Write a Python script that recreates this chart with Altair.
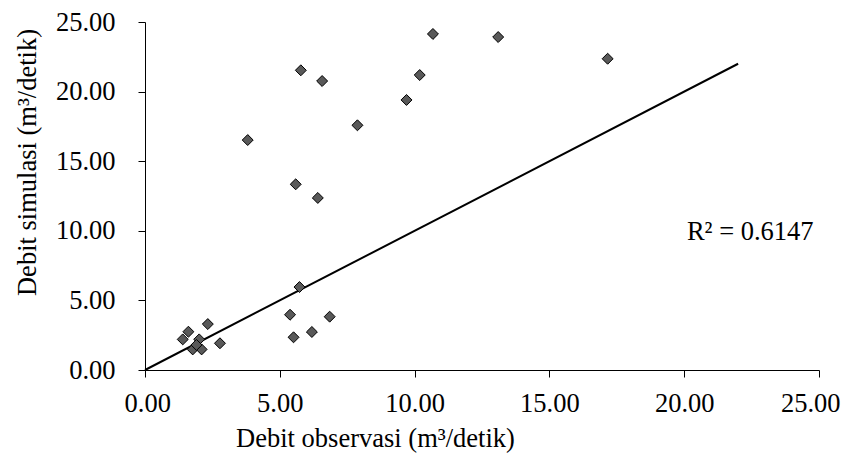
import altair as alt
import pandas as pd

obs = [3.81, 5.78, 6.57, 5.59, 6.41, 7.88, 9.70, 10.19, 10.68, 13.10, 17.16,
       5.73, 5.38, 5.51, 6.19, 6.85,
       1.40, 1.61, 2.33, 2.01, 1.77, 2.10, 2.78, 1.91]
sim = [16.52, 21.53, 20.76, 13.34, 12.36, 17.58, 19.40, 21.19, 24.14, 23.92, 22.36,
       5.96, 3.97, 2.35, 2.73, 3.83,
       2.20, 2.75, 3.30, 2.20, 1.48, 1.48, 1.92, 1.80]

line_x = [0, 22]
line_y = [0, 22]

r2_label = ["R² = 0.6147"]
r2_x = [20.1]
r2_y = [9.9]

FONT = "Liberation Serif"
FS = 26.5

pts = pd.DataFrame({"obs": obs, "sim": sim})
ln = pd.DataFrame({"obs": line_x, "sim": line_y})
txt = pd.DataFrame({"obs": r2_x, "sim": r2_y, "t": r2_label})

xscale = alt.Scale(domain=[0, 25], nice=False, zero=True)
yscale = alt.Scale(domain=[0, 25], nice=False, zero=True)

xaxis = alt.Axis(values=[0, 5, 10, 15, 20, 25], format=".2f", grid=False,
                 title="Debit observasi (m³/detik)", titleFont=FONT, titleFontSize=FS,
                 titleFontWeight="normal", titleColor="black",
                 titleX=230, titleY=76, titleAlign="center", titleBaseline="alphabetic",
                 labelFont=FONT, labelFontSize=FS, labelColor="black", labelPadding=13,
                 labelFlush=True, labelFlushOffset=21,
                 tickColor="black", tickSize=7, domainColor="black")
yaxis = alt.Axis(values=[0, 5, 10, 15, 20, 25], format=".2f", grid=False,
                 title="Debit simulasi (m³/detik)", titleFont=FONT, titleFontSize=FS,
                 titleFontWeight="normal", titleColor="black",
                 titleAngle=-90, titleX=-110, titleY=140, titleAlign="center",
                 titleBaseline="alphabetic",
                 labelFont=FONT, labelFontSize=FS, labelColor="black", labelPadding=23,
                 tickColor="black", tickSize=7, domainColor="black", labelFlush=False)

points = alt.Chart(pts).mark_point(shape="diamond", filled=True, fill="#595959",
                                   stroke="black", strokeWidth=1, size=120, opacity=1).encode(
    x=alt.X("obs:Q", scale=xscale, axis=xaxis),
    y=alt.Y("sim:Q", scale=yscale, axis=yaxis),
)

line = alt.Chart(ln).mark_line(color="black", strokeWidth=2).encode(
    x=alt.X("obs:Q", scale=xscale),
    y=alt.Y("sim:Q", scale=yscale),
)

text = alt.Chart(txt).mark_text(font=FONT, fontSize=FS, color="black", align="left",
                                baseline="middle").encode(
    x=alt.X("obs:Q", scale=xscale),
    y=alt.Y("sim:Q", scale=yscale),
    text="t:N",
)

chart = alt.layer(line, points, text).properties(
    width=674, height=348,
    padding={"left": 137, "top": 14, "right": 22, "bottom": 83},
    autosize=alt.AutoSizeParams(type="none"),
    background="white",
).configure_view(stroke=None)

chart.save("out.html", embed_options={"renderer": "svg", "actions": False})
